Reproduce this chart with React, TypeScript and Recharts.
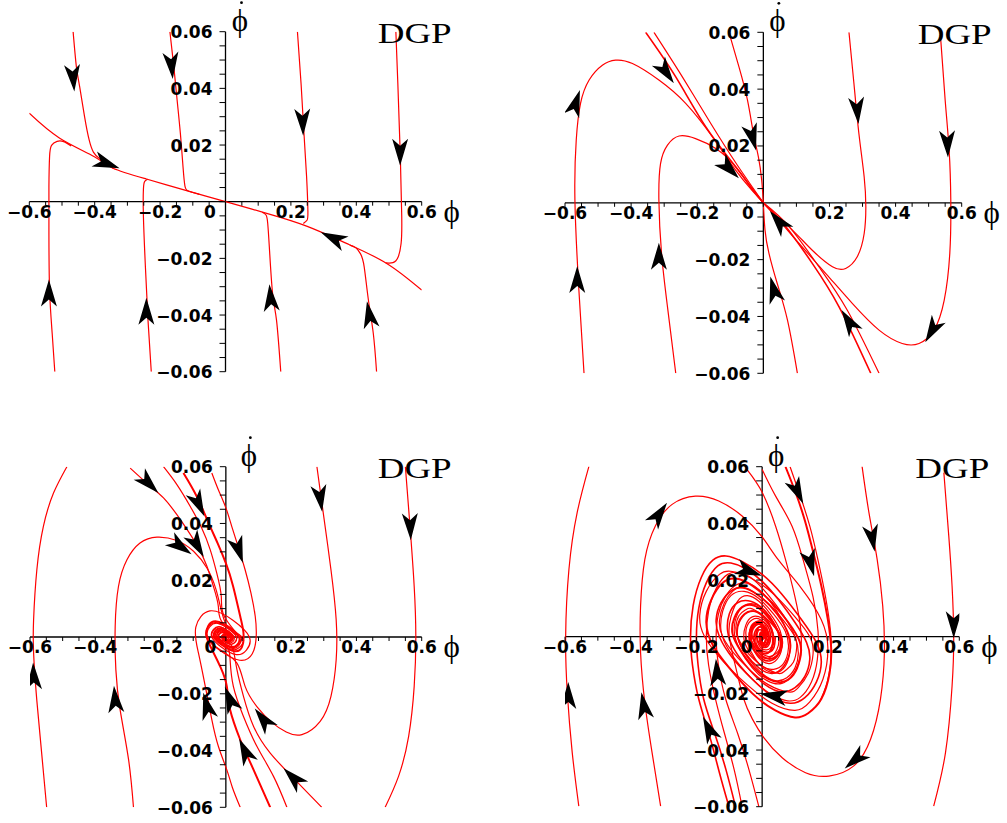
import React from 'react';
import { ComposedChart, Line, Scatter, XAxis, YAxis, ReferenceLine, ReferenceDot } from 'recharts';

type Pair = [number, number];
type ArrowPt = [number, number, number]; // x, y, screen angle in degrees

// ---------- axis ticks / labels ----------
const xMinorTicks = [-0.6, -0.55, -0.5, -0.45, -0.4, -0.35, -0.3, -0.25, -0.2, -0.15, -0.1, -0.05, 0,
  0.05, 0.1, 0.15, 0.2, 0.25, 0.3, 0.35, 0.4, 0.45, 0.5, 0.55, 0.6];
const yMinorTicks = [-0.06, -0.055, -0.05, -0.045, -0.04, -0.035, -0.03, -0.025, -0.02, -0.015, -0.01, -0.005, 0,
  0.005, 0.01, 0.015, 0.02, 0.025, 0.03, 0.035, 0.04, 0.045, 0.05, 0.055, 0.06];
const xTickValues = [-0.6, -0.4, -0.2, 0.2, 0.4, 0.6];
const xTickLabels = ['\u22120.6', '\u22120.4', '\u22120.2', '0.2', '0.4', '0.6'];
const yTickValues = [0.06, 0.04, 0.02, -0.02, -0.04, -0.06];
const yTickLabels = ['0.06', '0.04', '0.02', '\u22120.02', '\u22120.04', '\u22120.06'];

// ---------- top-left panel ----------
const tlSlow: Pair[] = [[-0.6, 0.0312], [-0.507, 0.0224], [-0.401, 0.0159], [-0.344, 0.0118], [-0.242, 0.008], [-0.119, 0.0039], [0, 0], [0.126, -0.0041], [0.248, -0.0086], [0.37, -0.0147], [0.493, -0.0218], [0.6, -0.0312]];
const tlB: Pair[] = [[-0.466, 0.06], [-0.456, 0.0476], [-0.446, 0.0406], [-0.431, 0.03], [-0.417, 0.0218], [-0.404, 0.0175], [-0.385, 0.0152], [-0.344, 0.0118]];
const tlC: Pair[] = [[-0.17, 0.06], [-0.158, 0.0476], [-0.148, 0.0359], [-0.138, 0.0241], [-0.13, 0.0124], [-0.124, 0.0055], [-0.112, 0.0037], [-0.08, 0.0026]];
const tlD: Pair[] = [[0.22, 0.06], [0.231, 0.0418], [0.24, 0.0241], [0.248, 0.0088], [0.252, -0.0035], [0.249, -0.0066], [0.238, -0.0077]];
const tlE: Pair[] = [[0.521, 0.06], [0.527, 0.0418], [0.534, 0.0182], [0.539, -0.0053], [0.537, -0.0147], [0.528, -0.0195], [0.512, -0.0215], [0.49, -0.0216]];
const tlF: Pair[] = [[-0.522, -0.06], [-0.53, -0.0465], [-0.538, -0.0312], [-0.54, -0.0112], [-0.54, 0.0053], [-0.538, 0.0159], [-0.532, 0.0199], [-0.515, 0.0213], [-0.495, 0.0212], [-0.472, 0.0197]];
const tlG: Pair[] = [[-0.227, -0.06], [-0.237, -0.0418], [-0.245, -0.0229], [-0.251, -0.0053], [-0.251, 0.0045], [-0.247, 0.0072], [-0.238, 0.0079]];
const tlH: Pair[] = [[0.169, -0.06], [0.156, -0.0418], [0.144, -0.0324], [0.134, -0.0159], [0.129, -0.0075], [0.124, -0.0047], [0.112, -0.0037]];
const tlI: Pair[] = [[0.462, -0.06], [0.452, -0.0465], [0.437, -0.0347], [0.424, -0.0229], [0.413, -0.0184], [0.398, -0.0162], [0.38, -0.0153]];
const tlArrows: ArrowPt[] = [[-0.466, 0.0438, 85], [-0.165, 0.0482, 85], [0.236, 0.0282, 88], [0.534, 0.0176, 90], [-0.364, 0.0135, 20], [0.33, -0.0129, -155], [-0.54, -0.0324, -90], [-0.242, -0.0388, -90], [0.138, -0.0341, -95], [0.44, -0.04, -100]];

// ---------- top-right panel ----------
const trOuterLoop: Pair[] = [[-0.5425, -0.06], [-0.558, -0.0307], [-0.57, 0.0009], [-0.566, 0.0221], [-0.553, 0.035], [-0.527, 0.0432], [-0.487, 0.0484], [-0.447, 0.0502], [-0.396, 0.049], [-0.316, 0.0432], [-0.235, 0.035], [-0.154, 0.0232], [-0.084, 0.0115], [-0.035, 0.0045], [0, 0]];
const trInnerLoop: Pair[] = [[-0.265, -0.06], [-0.29, -0.0366], [-0.308, -0.0178], [-0.316, 0.0009], [-0.311, 0.0138], [-0.29, 0.0203], [-0.255, 0.0235], [-0.205, 0.0226], [-0.144, 0.0191], [-0.084, 0.0127], [-0.033, 0.0045], [0, 0]];
const trStableA: Pair[] = [[-0.356, 0.06], [-0.265, 0.0443], [-0.174, 0.0267], [-0.084, 0.0127], [-0.035, 0.0052], [0, 0]];
const trStableB: Pair[] = [[-0.331, 0.06], [-0.245, 0.0443], [-0.159, 0.0279], [-0.079, 0.0133], [0, 0]];
const trStableC: Pair[] = [[0, 0], [0.068, -0.0084], [0.148, -0.0213], [0.229, -0.0366], [0.325, -0.06]];
const trStableD: Pair[] = [[0, 0], [0.078, -0.0084], [0.168, -0.0225], [0.254, -0.0378], [0.35, -0.06]];
const trTopAxis: Pair[] = [[-0.104, 0.06], [-0.074, 0.0479], [-0.048, 0.0361], [-0.03, 0.0244], [-0.015, 0.0162], [-0.005, 0.008], [0, 0]];
const trBottomAxis: Pair[] = [[0.103, -0.06], [0.073, -0.0413], [0.042, -0.0284], [0.017, -0.0178], [0.005, -0.0096], [0, 0]];
const trRightLoop: Pair[] = [[0.259, 0.06], [0.274, 0.042], [0.289, 0.0244], [0.305, 0.0091], [0.31, -0.0014], [0.305, -0.0108], [0.284, -0.019], [0.249, -0.0231], [0.209, -0.0225], [0.148, -0.0167], [0.088, -0.0096], [0.027, -0.0032], [0, 0]];
const trFarRight: Pair[] = [[0.536, 0.0584], [0.55, 0.0361], [0.562, 0.0185], [0.567, 0.0009], [0.564, -0.0178], [0.547, -0.0343], [0.516, -0.0448], [0.471, -0.0495], [0.42, -0.0495], [0.35, -0.0448], [0.269, -0.0354], [0.189, -0.0249], [0.108, -0.0143], [0.047, -0.0061], [0, 0]];
const trArrows: ArrowPt[] = [[-0.563, -0.0272, -90], [-0.568, 0.035, -72], [-0.316, -0.019, -90], [-0.295, 0.0461, 55], [-0.104, 0.0121, 45], [-0.033, 0.0232, 75], [0.284, 0.0326, 85], [0.557, 0.0209, 88], [0.511, -0.0448, 120], [0.259, -0.0419, -122], [0.047, -0.0067, -130], [0.032, -0.0307, -105]];

// ---------- bottom-left panel ----------
const blFarLeft: Pair[] = [[-0.487, 0.06], [-0.528, 0.0507], [-0.559, 0.039], [-0.579, 0.0237], [-0.589, 0.0061], [-0.589, -0.0056], [-0.581, -0.0197], [-0.569, -0.035], [-0.549, -0.06]];
const blFarRight: Pair[] = [[0.55, 0.06], [0.565, 0.0378], [0.577, 0.0178], [0.582, 0.0002], [0.577, -0.0174], [0.56, -0.035], [0.529, -0.0491], [0.488, -0.06]];
const blRightLoop: Pair[] = [[0.279, 0.06], [0.297, 0.0449], [0.322, 0.0237], [0.338, 0.0061], [0.338, -0.008], [0.322, -0.0209], [0.289, -0.0297], [0.233, -0.0344], [0.185, -0.0335], [0.14, -0.03], [0.095, -0.0245], [0.059, -0.0174], [0.034, -0.0092], [-0.0168, -0.0046], [-0.0558, 0], [-0.0495, 0.0036], [-0.025, 0.0048], [0.0101, 0.0027], [0.0324, 0], [0.027, -0.002], [0.013, -0.0025], [-0.0048, -0.0013], [-0.0135, 0], [-0.0052, 0.001], [0, 0]];
const blLeftLoop: Pair[] = [[-0.283, -0.06], [-0.298, -0.0432], [-0.324, -0.0256], [-0.337, -0.0115], [-0.339, 0.0038], [-0.329, 0.0178], [-0.303, 0.0272], [-0.263, 0.0331], [-0.211, 0.0352], [-0.15, 0.034], [-0.099, 0.0302], [-0.058, 0.0243], [-0.03, 0.0167], [-0.012, 0.0085], [0.012, 0.0025], [0.045, 0], [0.0405, -0.0029], [0.0208, -0.004], [-0.0084, -0.0023], [-0.027, 0], [-0.0225, 0.0016], [-0.0104, 0.002], [0.0038, 0.001], [0.0108, 0], [0.0042, -0.0008], [0, 0]];
const blU1: Pair[] = [[-0.293, 0.0595], [-0.237, 0.0537], [-0.191, 0.049], [-0.15, 0.0431], [-0.115, 0.0372], [-0.084, 0.0314], [-0.058, 0.0249], [-0.038, 0.0178], [-0.023, 0.0108], [-0.009, 0.0049], [0.0495, 0], [0.045, -0.0033], [0.0234, -0.0045], [-0.0096, -0.0026], [-0.0315, 0], [-0.027, 0.002], [-0.0135, 0.0026], [0.0053, 0.0014], [0.0162, 0], [0.0135, -0.001], [0.0062, -0.0012], [-0.0022, -0.0006], [-0.0063, 0], [0, 0.0002]];
const blU2: Pair[] = [[-0.191, 0.06], [-0.15, 0.0537], [-0.109, 0.046], [-0.074, 0.0384], [-0.048, 0.0308], [-0.028, 0.0226], [-0.014, 0.0143], [-0.005, 0.0073], [0.0405, 0], [0.038, -0.0027], [0.0198, -0.0038], [-0.0082, -0.0022], [-0.027, 0], [-0.0243, 0.0018], [-0.0125, 0.0024], [0.0048, 0.0013], [0.0144, 0], [0.0117, -0.0008], [0.0052, -0.001], [-0.0019, -0.0005], [-0.0054, 0], [0, 0]];
const blU3: Pair[] = [[-0.13, 0.0578], [-0.089, 0.0495], [-0.053, 0.0402], [-0.025, 0.033], [0, 0.026], [0.022, 0.018], [0.044, 0.0073], [0.054, 0.0014], [0.0495, -0.0035], [0.026, -0.005], [-0.0108, -0.0029], [-0.036, 0], [-0.0315, 0.0023], [-0.0156, 0.003], [0.0062, 0.0017], [0.0198, 0], [0.0162, -0.0012], [0.0073, -0.0014], [-0.0026, -0.0007], [-0.0072, 0], [0, 0.0003]];
const blU4: Pair[] = [[-0.043, 0.0578], [-0.023, 0.0519], [0, 0.0455], [0.018, 0.039], [0.039, 0.0314], [0.059, 0.0237], [0.077, 0.0155], [0.09, 0.0073], [0.093, 0.0002], [0.081, -0.0059], [0.0426, -0.0082], [-0.0178, -0.0048], [-0.0594, 0], [-0.0522, 0.0038], [-0.026, 0.005], [0.0103, 0.0028], [0.0324, 0], [0.027, -0.002], [0.013, -0.0025], [-0.0048, -0.0013], [-0.0135, 0], [-0.0099, 0.0007], [-0.0042, 0.0008], [0, 0.0002]];
const blL1: Pair[] = [[0.044, -0.06], [0.02, -0.053], [0.003, -0.0468], [-0.023, -0.0385], [-0.043, -0.0291], [-0.063, -0.0174], [-0.084, -0.0056], [-0.092, 0.0035], [-0.049, 0.0092], [0.0216, 0.0059], [0.072, 0], [0.063, -0.0046], [0.032, -0.0062], [-0.0132, -0.0036], [-0.043, 0], [-0.038, 0.0027], [-0.0187, 0.0036], [0.0072, 0.002], [0.0225, 0], [0.018, -0.0013], [0.0083, -0.0016], [-0.0029, -0.0008], [-0.0081, 0], [0, 0.0002]];
const blL2: Pair[] = [[0.136, -0.06], [0.085, -0.0468], [0.059, -0.0403], [0.044, -0.0362], [0.013, -0.0256], [0.003, -0.0174], [-0.015, -0.011], [-0.04, -0.005], [-0.0585, 0], [-0.054, 0.0039], [-0.0286, 0.0055], [0.012, 0.0033], [0.0405, 0], [0.036, -0.0026], [0.0182, -0.0035], [-0.0072, -0.002], [-0.0225, 0], [-0.018, 0.0013], [-0.0083, 0.0016], [0.0029, 0.0008], [0.0081, 0], [0, -0.0002]];
const blL3: Pair[] = [[0.187, -0.06], [0.146, -0.0491], [0.095, -0.0385], [0.054, -0.028], [0.023, -0.0174], [0.013, -0.008], [0, -0.003], [-0.0405, 0], [-0.036, 0.0026], [-0.0187, 0.0036], [0.0077, 0.0021], [0.0252, 0], [0.0216, -0.0016], [0.0104, -0.002], [-0.0038, -0.001], [-0.0108, 0], [-0.0081, 0.0006], [0, 0.0003]];
const blL4: Pair[] = [[0.294, -0.06], [0.207, -0.0497], [0.136, -0.0409], [0.085, -0.0315], [0.054, -0.0209], [0.034, -0.0115], [0.023, -0.0045], [0.005, -0.002], [-0.0315, 0], [-0.027, 0.002], [-0.0135, 0.0026], [0.0053, 0.0014], [0.0162, 0], [0.0135, -0.001], [0.0062, -0.0012], [-0.0022, -0.0006], [-0.0063, 0], [0, 0]];
const blArrows: ArrowPt[] = [[-0.237, 0.0542, 45], [-0.14, 0.032, 35], [-0.089, 0.0325, 60], [-0.084, 0.047, 65], [0.039, 0.0308, 72], [0.289, 0.049, 82], [0.565, 0.039, 88], [-0.589, -0.0139, -92], [-0.339, -0.0221, -95], [-0.058, -0.0244, -105], [0.013, -0.0221, -112], [0.115, -0.0291, -128], [0.059, -0.0403, -115], [0.207, -0.0497, -135]];

// ---------- bottom-right panel ----------
const brFarLeft: Pair[] = [[-0.527, 0.0602], [-0.563, 0.0438], [-0.588, 0.0238], [-0.598, 0.0002], [-0.593, -0.0198], [-0.578, -0.0409], [-0.558, -0.0598]];
const brFarRight: Pair[] = [[0.553, 0.0579], [0.568, 0.0355], [0.578, 0.0179], [0.583, 0.0002], [0.578, -0.0174], [0.558, -0.0409], [0.522, -0.0598]];
const brRightLoop: Pair[] = [[0.304, 0.0602], [0.325, 0.0438], [0.35, 0.0273], [0.367, 0.0108], [0.372, -0.0056], [0.36, -0.0221], [0.33, -0.0362], [0.279, -0.0456], [0.203, -0.0492], [0.132, -0.048], [0.061, -0.0427], [0.005, -0.0356], [-0.03, -0.029], [-0.056, -0.022], [-0.08, -0.011], [-0.1, 0], [-0.095, 0.007], [-0.075, 0.0125], [-0.045, 0.0145], [-0.01, 0.0125], [0.025, 0.008], [0.055, 0.002], [0.06, -0.004], [0.045, -0.008], [0.02, -0.0095], [-0.01, -0.0075], [-0.03, -0.003], [-0.033, 0.0015], [-0.02, 0.004], [0, 0.004], [0.012, 0.0015], [0.01, -0.002], [0, -0.002], [-0.004, 0], [0, 0.0005]];
const brLeftLoop: Pair[] = [[-0.309, -0.0598], [-0.335, -0.0409], [-0.357, -0.0233], [-0.37, -0.0056], [-0.37, 0.0108], [-0.357, 0.0273], [-0.325, 0.0391], [-0.274, 0.0467], [-0.203, 0.0496], [-0.132, 0.0479], [-0.061, 0.0426], [0, 0.0352], [0.05, 0.027], [0.12, 0.017], [0.18, 0.006], [0.2, -0.004], [0.185, -0.015], [0.145, -0.023], [0.1, -0.026], [0.03, -0.0235], [-0.045, -0.017], [-0.12, -0.0085], [-0.175, 0], [-0.19, 0.0075], [-0.17, 0.016], [-0.13, 0.022], [-0.09, 0.023], [-0.024, 0.02], [0.04, 0.0145], [0.1, 0.007], [0.145, 0], [0.155, -0.006], [0.14, -0.013], [0.11, -0.018], [0.08, -0.0195], [0.02, -0.017], [-0.035, -0.012], [-0.085, -0.006], [-0.12, 0], [-0.13, 0.0055], [-0.115, 0.012], [-0.09, 0.016], [-0.06, 0.0175], [-0.015, 0.015], [0.03, 0.0105], [0.07, 0.005], [0.1, 0], [0.105, -0.004], [0.095, -0.009], [0.07, -0.012], [0.05, -0.013], [0.01, -0.011], [-0.025, -0.008], [-0.055, -0.004], [-0.075, 0], [-0.08, 0.0035], [-0.07, 0.0075], [-0.05, 0.0095], [-0.035, 0.01], [-0.01, 0.0085], [0.017, 0.006], [0.04, 0.003], [0.055, 0], [0.058, -0.0025], [0.05, -0.005], [0.035, -0.0065], [0.02, -0.007], [0, -0.006], [-0.015, -0.004], [-0.03, -0.002], [-0.038, 0], [-0.038, 0.002], [-0.03, 0.004], [-0.015, 0.0045], [0, 0.004], [0.015, 0.0025], [0.022, 0], [0.02, -0.002], [0.01, -0.003], [0, -0.002], [-0.008, 0], [0, 0.001]];
const brTopThick: Pair[] = [[0.071, 0.06], [0.102, 0.0508], [0.13, 0.041], [0.155, 0.03], [0.18, 0.018], [0.2, 0.006], [0.21, -0.004], [0.205, -0.013], [0.18, -0.022], [0.14, -0.027], [0.1, -0.0285], [0.04, -0.026], [-0.03, -0.02], [-0.1, -0.011], [-0.15, -0.003], [-0.17, 0.005], [-0.155, 0.013], [-0.12, 0.019], [-0.08, 0.0205], [-0.03, 0.018], [0.03, 0.012], [0.08, 0.005], [0.115, -0.002], [0.115, -0.008], [0.095, -0.0135], [0.06, -0.016], [0.02, -0.015], [-0.025, -0.011], [-0.065, -0.005], [-0.09, 0.001], [-0.085, 0.0065], [-0.06, 0.0105], [-0.025, 0.011], [0.01, 0.008], [0.04, 0.0035], [0.06, -0.001], [0.055, -0.005], [0.035, -0.0075], [0.01, -0.0075], [-0.015, -0.005], [-0.035, -0.001], [-0.035, 0.003], [-0.02, 0.005], [0, 0.0045], [0.015, 0.002], [0.018, -0.001], [0.008, -0.003], [-0.004, -0.002], [-0.006, 0.0005], [0, 0.001]];
const brTopThin: Pair[] = [[0.085, 0.06], [0.115, 0.05], [0.145, 0.039], [0.17, 0.027], [0.193, 0.014], [0.208, 0.002], [0.21, -0.007], [0.198, -0.016], [0.175, -0.023]];
const brTopMid: Pair[] = [[0, 0.059], [0.041, 0.0496], [0.091, 0.039], [0.125, 0.027], [0.155, 0.014], [0.17, 0.002], [0.168, -0.008], [0.15, -0.016], [0.115, -0.0215], [0.07, -0.0225], [0.01, -0.019], [-0.05, -0.0125], [-0.1, -0.005], [-0.125, 0.002], [-0.12, 0.009], [-0.095, 0.0145], [-0.055, 0.016], [-0.01, 0.0135], [0.035, 0.008], [0.07, 0.002], [0.08, -0.004], [0.065, -0.0095], [0.035, -0.0115], [0, -0.0105], [-0.035, -0.006], [-0.055, -0.001], [-0.05, 0.004], [-0.03, 0.007], [0, 0.0065], [0.025, 0.0035], [0.035, -0.0005], [0.025, -0.004], [0.005, -0.0045], [-0.012, -0.0025], [-0.015, 0.001], [-0.005, 0.0025], [0.005, 0.001], [0, 0]];
const brTopLeft: Pair[] = [[-0.046, 0.059], [0, 0.051], [0.041, 0.039], [0.071, 0.0273], [0.1, 0.014], [0.118, 0.002], [0.115, -0.007], [0.095, -0.013], [0.06, -0.0165], [0.015, -0.0155], [-0.03, -0.011], [-0.07, -0.004], [-0.085, 0.002], [-0.075, 0.008], [-0.045, 0.0115], [-0.005, 0.0105], [0.03, 0.006], [0.05, 0.0005], [0.045, -0.0045], [0.02, -0.0075], [-0.01, -0.0065], [-0.03, -0.003], [-0.032, 0.001], [-0.018, 0.004], [0, 0.004], [0.012, 0.0015], [0.01, -0.0015], [0, -0.002], [-0.005, 0], [0, 0.0005]];
const brBottomA: Pair[] = [[-0.101, -0.06], [-0.13, -0.048], [-0.16, -0.035], [-0.193, -0.022], [-0.212, -0.01], [-0.218, 0], [-0.21, 0.011], [-0.185, 0.021], [-0.15, 0.027], [-0.11, 0.0285], [-0.06, 0.0265], [0, 0.022], [0.06, 0.015], [0.12, 0.006], [0.165, -0.002], [0.18, -0.009], [0.165, -0.016], [0.13, -0.0215], [0.085, -0.0235], [0.03, -0.021], [-0.03, -0.015], [-0.09, -0.0075], [-0.13, 0], [-0.14, 0.006], [-0.125, 0.012], [-0.09, 0.0165], [-0.05, 0.017], [0, 0.0135], [0.045, 0.008], [0.08, 0.001], [0.085, -0.005], [0.065, -0.0105], [0.03, -0.013], [-0.01, -0.011], [-0.05, -0.006], [-0.075, 0], [-0.07, 0.005], [-0.045, 0.0085], [-0.01, 0.0085], [0.02, 0.005], [0.035, 0], [0.03, -0.004], [0.01, -0.006], [-0.015, -0.004], [-0.025, 0], [-0.015, 0.003], [0, 0.003], [0.008, 0], [0, -0.001]];
const brBottomB: Pair[] = [[-0.081, -0.06], [-0.11, -0.047], [-0.145, -0.034], [-0.178, -0.022], [-0.195, -0.01], [-0.2, 0], [-0.193, 0.01], [-0.17, 0.019], [-0.135, 0.025], [-0.095, 0.026], [-0.05, 0.024], [0, 0.0195], [0.05, 0.013], [0.1, 0.005], [0.135, -0.002], [0.145, -0.008], [0.13, -0.014], [0.1, -0.018], [0.06, -0.0195], [0.01, -0.017], [-0.04, -0.0115], [-0.085, -0.0045], [-0.105, 0.002], [-0.1, 0.008], [-0.075, 0.012], [-0.035, 0.0125], [0.005, 0.0095], [0.04, 0.004], [0.055, -0.001], [0.05, -0.006], [0.025, -0.0085], [-0.005, -0.0075], [-0.03, -0.004], [-0.04, 0], [-0.03, 0.0035], [-0.01, 0.0045], [0.008, 0.002], [0.008, -0.002], [-0.002, -0.002], [0, 0]];
const brBottomC: Pair[] = [[-0.061, -0.06], [-0.085, -0.047], [-0.115, -0.034], [-0.142, -0.022], [-0.163, -0.01], [-0.17, 0], [-0.163, 0.009], [-0.14, 0.017], [-0.105, 0.022], [-0.065, 0.0225], [-0.025, 0.02], [0.02, 0.0145], [0.065, 0.0075], [0.1, 0], [0.11, -0.006], [0.1, -0.011], [0.075, -0.0145], [0.04, -0.0155], [0, -0.013], [-0.04, -0.008], [-0.07, -0.002], [-0.075, 0.004], [-0.055, 0.008], [-0.025, 0.009], [0.01, 0.006], [0.03, 0.001], [0.028, -0.004], [0.01, -0.006], [-0.012, -0.004], [-0.02, 0], [-0.01, 0.0025], [0.003, 0.0015], [0, 0]];
const brBottomD: Pair[] = [[-0.01, -0.06], [-0.04, -0.047], [-0.075, -0.034], [-0.111, -0.022], [-0.133, -0.01], [-0.14, 0], [-0.133, 0.008], [-0.11, 0.0145], [-0.075, 0.0185], [-0.035, 0.0185], [0.005, 0.015], [0.045, 0.009], [0.075, 0.002], [0.085, -0.004], [0.075, -0.0095], [0.05, -0.0125], [0.015, -0.012], [-0.02, -0.008], [-0.045, -0.002], [-0.048, 0.003], [-0.03, 0.006], [-0.005, 0.006], [0.015, 0.003], [0.02, -0.001], [0.01, -0.0035], [-0.005, -0.0025], [-0.008, 0.0005], [0, 0.001]];
const brCore: Pair[] = [[0.04, 0], [0.035, -0.004], [0.015, -0.0055], [-0.01, -0.004], [-0.03, 0], [-0.028, 0.004], [-0.01, 0.0055], [0.012, 0.0045], [0.025, 0.001], [0.022, -0.0025], [0.008, -0.0038], [-0.008, -0.0025], [-0.017, 0], [-0.015, 0.0025], [-0.005, 0.0035], [0.007, 0.0025], [0.012, 0], [0.008, -0.002], [0, -0.0022], [-0.007, -0.001], [-0.007, 0.001], [0, 0.0015], [0.004, 0], [0, -0.0008]];
const brArrows: ArrowPt[] = [[-0.59, -0.0209, -90], [-0.314, 0.0432, -55], [-0.36, -0.0245, -100], [-0.137, -0.0127, -95], [-0.162, -0.0327, -115], [-0.041, 0.0232, 20], [0.036, -0.0209, -170], [0.107, 0.0514, 65], [0.147, 0.0261, 75], [0.335, 0.0349, 80], [0.583, 0.0044, 90], [0.284, -0.0433, 140]];

// ---------- helpers ----------
type Curve = { pts: Pair[]; w?: number };
const RED = '#ff0000';
const toRows = (a: Pair[]) => a.map(([x, y]) => ({ x, y }));

// filled arrowhead with a notched back, pointing along +x before rotation
const ArrowHead = (props: any) => {
  const { cx, cy, payload } = props;
  if (cx == null || cy == null) return null;
  return (
    <path
      d="M14,0 L-13,-8 L-6,0 L-13,8 Z"
      transform={`translate(${cx},${cy}) rotate(${payload.a})`}
      fill="#000"
    />
  );
};

const tickFont = { fontFamily: "'DejaVu Sans', sans-serif", fontSize: 17, fontWeight: 'bold' as const, fill: '#000' };
const greekFont = { fontFamily: "'Liberation Serif', 'DejaVu Serif', serif", fontSize: 31, fill: '#000' };

type PanelProps = {
  left: number; top: number; width: number; height: number;
  margin: { top: number; right: number; bottom: number; left: number };
  curves: Curve[];
  arrows: ArrowPt[];
  dotLabelDx: number;
};

const Panel = ({ left, top, width, height, margin, curves, arrows, dotLabelDx }: PanelProps) => (
  <div style={{ position: 'absolute', left, top, width, height }}>
    <ComposedChart width={width} height={height} margin={margin}>
      <XAxis type="number" dataKey="x" domain={[-0.6, 0.6]} hide allowDataOverflow />
      <YAxis type="number" dataKey="y" domain={[-0.06, 0.06]} hide allowDataOverflow />
      <ReferenceLine y={0} stroke="#000" strokeWidth={1.3} />
      <ReferenceLine x={0} stroke="#000" strokeWidth={1.3} />
      {xMinorTicks.map((v) => (
        <ReferenceDot key={'xm' + v} x={v} y={0} r={0} ifOverflow="visible"
          shape={(p: any) => <line x1={p.cx} y1={p.cy} x2={p.cx} y2={p.cy + 4} stroke="#000" strokeWidth={1} />} />
      ))}
      {yMinorTicks.map((v) => (
        <ReferenceDot key={'ym' + v} x={0} y={v} r={0} ifOverflow="visible"
          shape={(p: any) => <line x1={p.cx - 6} y1={p.cy} x2={p.cx} y2={p.cy} stroke="#000" strokeWidth={1} />} />
      ))}
      {xTickValues.map((v, i) => (
        <ReferenceDot key={'xl' + v} x={v} y={0} r={0} ifOverflow="visible"
          shape={(p: any) => <text x={p.cx} y={p.cy + 16} textAnchor="middle" {...tickFont}>{xTickLabels[i]}</text>} />
      ))}
      {yTickValues.map((v, i) => (
        <ReferenceDot key={'yl' + v} x={0} y={v} r={0} ifOverflow="visible"
          shape={(p: any) => <text x={p.cx - 13} y={p.cy + 6.5} textAnchor="end" {...tickFont}>{yTickLabels[i]}</text>} />
      ))}
      <ReferenceDot x={0} y={0} r={0} ifOverflow="visible"
        shape={(p: any) => <text x={p.cx - 15.5} y={p.cy + 16} textAnchor="middle" {...tickFont}>0</text>} />
      <ReferenceDot x={0.6} y={0} r={0} ifOverflow="visible"
        shape={(p: any) => <text x={p.cx + 30} y={p.cy + 20} textAnchor="middle" {...greekFont}>ϕ</text>} />
      <ReferenceDot x={0} y={0.06} r={0} ifOverflow="visible"
        shape={(p: any) => (
          <g>
            <text x={p.cx + dotLabelDx} y={p.cy - 1} textAnchor="middle" {...greekFont}>ϕ</text>
            <circle cx={p.cx + dotLabelDx + 1.5} cy={p.cy - 29} r={1.4} fill="#000" />
          </g>
        )} />
      <ReferenceDot x={0.6} y={0.06} r={0} ifOverflow="visible"
        shape={(p: any) => (
          <text x={p.cx - 44} y={p.cy + 11.5} fontFamily="'Liberation Serif', serif" fontSize={30}
            textLength={74} lengthAdjust="spacingAndGlyphs" fill="#000">DGP</text>
        )} />
      {curves.map((c, i) => (
        <Line key={'c' + i} data={toRows(c.pts)} dataKey="y" type="natural" stroke={RED}
          strokeWidth={c.w ?? 1.2} dot={false} activeDot={false} isAnimationActive={false} />
      ))}
      <Scatter data={arrows.map(([x, y, a]) => ({ x, y, a }))} shape={ArrowHead} isAnimationActive={false} />
    </ComposedChart>
  </div>
);

export default function App() {
  return (
    <div style={{ position: 'absolute', left: 0, top: 0, width: 1007, height: 823, background: '#fff', overflow: 'hidden' }}>
      <Panel left={0} top={0} width={480} height={400}
        margin={{ top: 31.7, right: 58.3, bottom: 28.3, left: 29.3 }}
        curves={[tlSlow, tlB, tlC, tlD, tlE, tlF, tlG, tlH, tlI].map((pts) => ({ pts }))}
        arrows={tlArrows} dotLabelDx={14.5} />
      <Panel left={500} top={0} width={507} height={400}
        margin={{ top: 32.3, right: 45.3, bottom: 26.7, left: 65 }}
        curves={[
          { pts: trOuterLoop }, { pts: trInnerLoop }, { pts: trStableA, w: 1.6 }, { pts: trStableB },
          { pts: trStableC, w: 1.6 }, { pts: trStableD }, { pts: trTopAxis }, { pts: trBottomAxis },
          { pts: trRightLoop }, { pts: trFarRight },
        ]}
        arrows={trArrows} dotLabelDx={14} />
      <Panel left={0} top={420} width={480} height={403}
        margin={{ top: 46.7, right: 58.3, bottom: 15.7, left: 30 }}
        curves={[
          { pts: blFarLeft }, { pts: blFarRight }, { pts: blRightLoop }, { pts: blLeftLoop },
          { pts: blU1 }, { pts: blU2 }, { pts: blU3, w: 2 }, { pts: blU4 },
          { pts: blL1 }, { pts: blL2, w: 2 }, { pts: blL3 }, { pts: blL4 },
        ]}
        arrows={blArrows} dotLabelDx={23} />
      <Panel left={500} top={420} width={507} height={403}
        margin={{ top: 46.7, right: 47.7, bottom: 16.3, left: 65 }}
        curves={[
          { pts: brFarLeft }, { pts: brFarRight }, { pts: brRightLoop }, { pts: brLeftLoop },
          { pts: brTopThick, w: 2 }, { pts: brTopThin }, { pts: brTopMid }, { pts: brTopLeft },
          { pts: brBottomA, w: 1.6 }, { pts: brBottomB, w: 1.6 }, { pts: brBottomC }, { pts: brBottomD },
          { pts: brCore, w: 1.6 },
        ]}
        arrows={brArrows} dotLabelDx={14} />
    </div>
  );
}
